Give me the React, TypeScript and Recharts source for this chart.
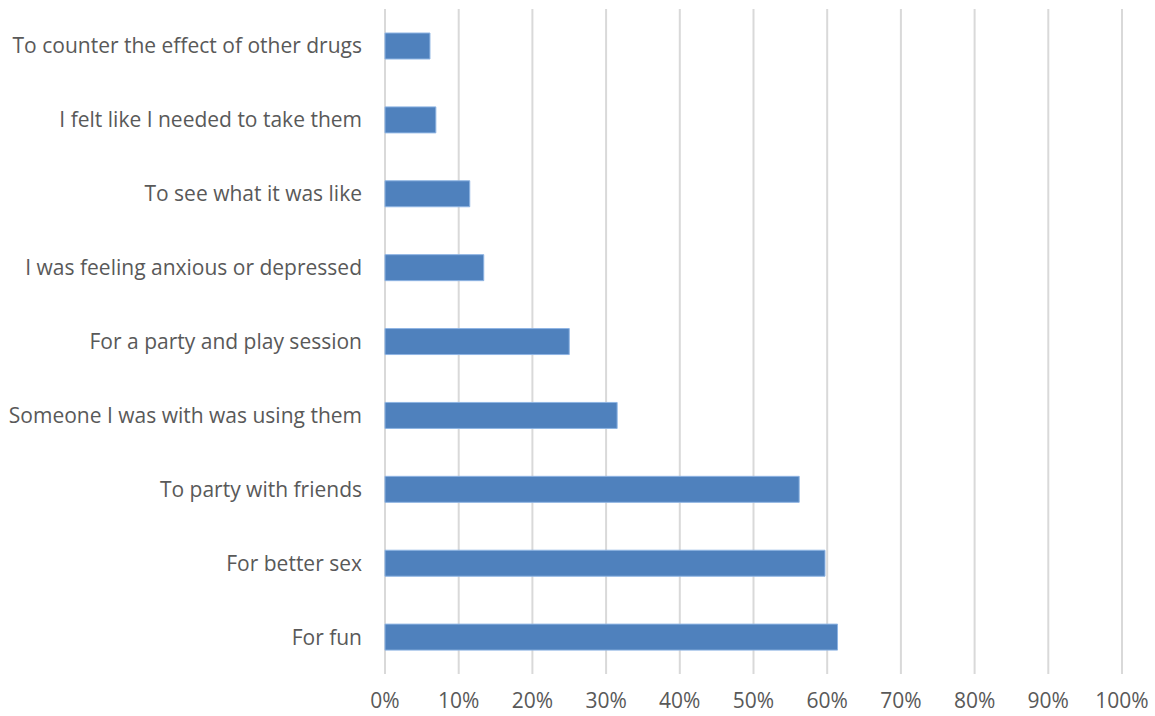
import React from 'react';
import { BarChart, Bar, XAxis, YAxis, CartesianGrid } from 'recharts';

const reasons = [
  'To counter the effect of other drugs',
  'I felt like I needed to take them',
  'To see what it was like',
  'I was feeling anxious or depressed',
  'For a party and play session',
  'Someone I was with was using them',
  'To party with friends',
  'For better sex',
  'For fun',
];

const shares = [6.1, 6.9, 11.5, 13.4, 25.0, 31.5, 56.2, 59.7, 61.4];

const xTicks = [0, 10, 20, 30, 40, 50, 60, 70, 80, 90, 100];

const chartData = reasons.map((reason, i) => ({ reason, share: shares[i] }));

const font = { fontFamily: '"Open Sans", sans-serif', fontSize: 21, fill: '#595959' };

export default function App() {
  return (
    <div style={{ position: 'absolute', left: 0, top: 0, background: '#fff' }}>
      <BarChart
        width={1155}
        height={716}
        layout="vertical"
        data={chartData}
        margin={{ top: 9, right: 33, bottom: 0, left: 0 }}
      >
        <CartesianGrid horizontal={false} stroke="#d9d9d9" strokeWidth={2} />
        <XAxis
          type="number"
          domain={[0, 100]}
          ticks={xTicks}
          tickFormatter={(v: number) => `${v}%`}
          axisLine={false}
          tickLine={false}
          tickSize={0}
          tickMargin={19}
          height={42}
          tick={font}
          interval={0}
        />
        <YAxis
          type="category"
          dataKey="reason"
          width={385}
          axisLine={false}
          tickLine={false}
          tickSize={0}
          tickMargin={23}
          tick={font}
          interval={0}
        />
        <Bar
          dataKey="share"
          fill="#4f81bd"
          stroke="#8eb4e3"
          strokeWidth={1}
          barSize={26}
          isAnimationActive={false}
        />
      </BarChart>
    </div>
  );
}
